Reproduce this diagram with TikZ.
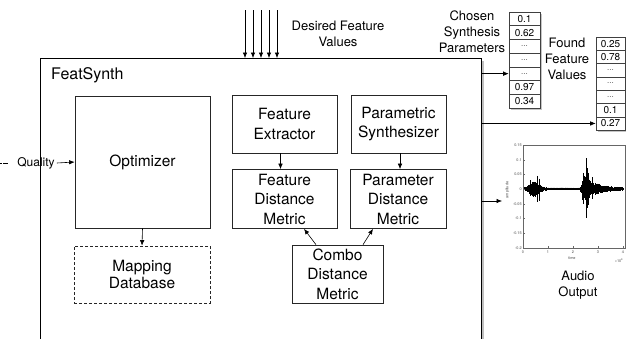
\documentclass[tikz,border=0pt]{standalone}
\usepackage{fontspec}
\setmainfont{TeX Gyre Heros}
\usetikzlibrary{arrows.meta,shadows}
\newcommand\celldots{{\fontsize{8}{8}\selectfont\color{black!70}...}}
\begin{document}
\begin{tikzpicture}[x=1pt,y=-1pt,
  box/.style={draw=black!85,line width=0.7pt,fill=white,align=center,inner sep=0pt,font=\fontsize{15.5}{19.5}\selectfont},
  lbl/.style={align=center,font=\fontsize{13}{16}\selectfont,inner sep=0pt},
  arr/.style={-{Latex[length=5.5pt,width=4.5pt]},line width=0.6pt},
  cellA/.style={draw=black!75,line width=0.6pt,fill=white,minimum width=31pt,minimum height=13.7pt,inner sep=0pt,font=\fontsize{10}{12}\selectfont,drop shadow={shadow xshift=1.8pt,shadow yshift=-1.8pt,fill=black!45}},
  cellB/.style={cellA,minimum width=29pt,minimum height=13.3pt},
  tk/.style={font=\fontsize{3.8}{4}\selectfont,inner sep=0.6pt,text=black!70},
  mainbox/.style={draw=black,line width=1pt,fill=white,inner sep=0pt,drop shadow={shadow xshift=2.5pt,shadow yshift=-2.5pt,fill=black!50}}
]
\useasboundingbox (0,0) rectangle (626,338);
\clip (0,0) rectangle (626,338);
\fill[white] (0,0) rectangle (626,338);

% main FeatSynth box
\node[mainbox,minimum width=441pt,minimum height=320pt,anchor=north west] (main) at (40,58) {};
\node[anchor=west,inner sep=0pt,font=\fontsize{16}{19}\selectfont] (fslabel) at (51,75) {FeatSynth};

% inner boxes
\node[box,minimum width=135pt,minimum height=132pt] (opt) at (142.5,162) {Optimizer};
\node[box,dashed,dash pattern=on 3pt off 2pt,minimum width=136pt,minimum height=57pt,font=\fontsize{15.5}{16.5}\selectfont] (mapdb) at (142,274.5) {Mapping\\Database};
\node[box,minimum width=105pt,minimum height=58pt] (fe) at (284.5,124) {Feature\\Extractor};
\node[box,minimum width=95pt,minimum height=58pt] (ps) at (398.5,124) {Parametric\\Synthesizer};
\node[box,minimum width=105pt,minimum height=59pt] (fdm) at (284.5,199) {Feature\\Distance\\Metric};
\node[box,minimum width=96pt,minimum height=59pt] (pdm) at (398,199) {Parameter\\Distance\\Metric};
\node[box,minimum width=91pt,minimum height=58pt] (combo) at (337.5,274) {Combo\\Distance\\Metric};

\draw[arr] (opt.south) -- (mapdb.north);
\draw[arr] ([xshift=-4pt]fe.south) -- ([xshift=-4pt]fdm.north);
\draw[arr] ([xshift=1.5pt]ps.south) -- ([xshift=2pt]pdm.north);
\draw[arr] ([xshift=-21.5pt]combo.north) -- ([xshift=19.5pt]fdm.south);
\draw[arr] ([xshift=25.5pt]combo.north) -- ([xshift=-25pt]pdm.south);

% quality input
\coordinate (qs) at (0,163);
\node[lbl,font=\fontsize{12}{14}\selectfont] (qual) at (36,163) {Quality};
\draw[line width=0.6pt,dash pattern=on 4.5pt off 1.5pt,dash phase=3pt] (qs) -- ([xshift=-9pt]qual.west);
\draw[arr] ([xshift=2pt]qual.east) -- (opt.west);

% desired feature values
\foreach \x [count=\j] in {245,253,261,269,277}{
  \coordinate (d\j) at (\x,10);
  \draw[arr] (d\j) -- (d\j |- main.north);
}
\node[lbl] (dfv) at (338,34) {Desired Feature\\Values};

% chosen synthesis parameters
\node[lbl] (csp) at (472,32) {Chosen\\Synthesis\\Parameters};
\foreach \v [count=\i] in {0.1,0.62,\celldots,\celldots,\celldots,0.97,0.34}{
  \node[cellA] (ta\i) at (524.5,{12+13.7*(\i-0.5)}) {\v};
}
\draw[arr] (main.east |- ta5) -- (ta5.west);

% found feature values
\node[lbl] (ffv) at (567,59) {Found\\Feature\\Values};
\foreach \v [count=\i] in {0.25,0.78,\celldots,\celldots,\celldots,0.1,0.27}{
  \node[cellB] (tb\i) at (610.5,{37+13.3*(\i-0.5)}) {\v};
}
\draw[arr] (main.east |- tb7) -- (tb7.west);

% audio output plot
\coordinate (audin) at (502,201);
\draw[arr] (main.east |- audin) -- (audin);
\pgfmathsetseed{7}
\foreach \i in {6,...,400}{
  \pgfmathsetmacro\tv{\i/100}
  \pgfmathsetmacro\env{0.005+0.022*exp(-min(((\tv-0.45)/0.25)^2,15))+0.045*exp(-min(max((2.42-\tv)/0.08,0)^2+max((\tv-2.42)/0.45,0),15))}
  \pgfmathsetmacro\up{\env*(0.35+0.65*rnd)*294}
  \pgfmathsetmacro\dn{\env*(0.35+0.65*rnd)*294}
  \draw[line width=0.4pt] (523+\i*0.25,189-\up) -- (523+\i*0.25,189+\dn);
}
\foreach \s/\a/\b in {0.3/0.03/0.025,0.58/0.045/0.045,0.64/0.035/0.04,2.42/0.055/0.05,2.52/0.105/0.1,2.56/0.07/0.065,2.62/0.055/0.055,2.75/0.04/0.035}{
  \draw[line width=0.5pt] (523+\s*25,189-\a*294) -- (523+\s*25,189+\b*294);
}
\draw[black!60,line width=0.3pt] (523,145) rectangle (625,248);
\foreach \k/\lab in {0/0.15,1/0.1,2/0.05,3/0,4/-0.05,5/-0.1,6/-0.15,7/-0.2}{
  \draw[black!60,line width=0.3pt] (523,{145+\k*14.714}) -- (525,{145+\k*14.714});
  \node[tk,anchor=east] at (522.5,{145+\k*14.714}) {\lab};
}
\foreach \k in {0,...,4}{
  \draw[black!60,line width=0.3pt] ({523+25*\k},248) -- ({523+25*\k},246);
  \node[tk,anchor=north] at ({523+25*\k},249.5) {\k};
}
\node[tk] (tlab) at (572,258) {time};
\node[tk] (xexp) at (619,261) {×10\textsuperscript{4}};
\node[tk,rotate=90] (alab) at (507.5,190) {amplitude};
\node[lbl] (aout) at (578,285) {Audio\\Output};
\end{tikzpicture}
\end{document}
